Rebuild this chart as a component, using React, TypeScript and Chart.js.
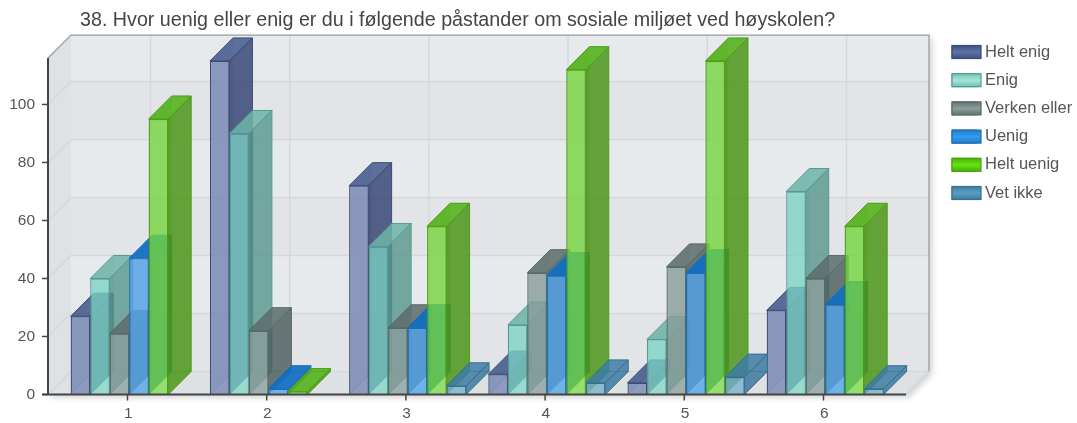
import React, { useEffect, useRef } from "react";
import { Chart, registerables } from "chart.js";

Chart.register(...registerables);

const title = "38. Hvor uenig eller enig er du i følgende påstander om sosiale miljøet ved høyskolen?";
const categories = [1, 2, 3, 4, 5, 6];
const seriesNames = ["Helt enig", "Enig", "Verken eller", "Uenig", "Helt uenig", "Vet ikke"];
const heltEnig = [27, 115, 72, 7, 4, 29];
const enig = [40, 90, 51, 24, 19, 70];
const verkenEller = [21, 22, 23, 42, 44, 40];
const uenig = [47, 2, 23, 41, 42, 31];
const heltUenig = [95, 1, 58, 112, 115, 58];
const vetIkke = [0, 0, 3, 4, 6, 2];
const seriesValues = [heltEnig, enig, verkenEller, uenig, heltUenig, vetIkke];

type Pal = { front: string; light: string; side: string; inner: string; top: string; edge: string; lg: [string, string] };
const palettes: Pal[] = [
  { front: "rgba(120,138,180,0.8)", light: "rgba(190,200,222,0.85)", side: "rgba(50,66,112,0.82)", inner: "rgba(50,66,112,0.15)", top: "rgba(62,84,138,0.82)", edge: "#3c4a75", lg: ["#3b4e80", "#5f73a6"] },
  { front: "rgba(125,215,200,0.72)", light: "rgba(190,238,228,0.8)", side: "rgba(85,150,140,0.8)", inner: "rgba(60,130,120,0.15)", top: "rgba(110,180,168,0.85)", edge: "#559a90", lg: ["#68c2b4", "#a6e4d8"] },
  { front: "rgba(140,160,158,0.78)", light: "rgba(205,215,213,0.82)", side: "rgba(80,98,96,0.85)", inner: "rgba(50,70,68,0.15)", top: "rgba(95,112,110,0.88)", edge: "#566a68", lg: ["#5c716f", "#8c9e9c"] },
  { front: "rgba(85,165,232,0.8)", light: "rgba(165,212,245,0.85)", side: "rgba(10,95,175,0.85)", inner: "rgba(10,90,170,0.15)", top: "rgba(15,110,195,0.92)", edge: "#1a6fb5", lg: ["#2578c4", "#2f9cf2"] },
  { front: "rgba(120,222,65,0.72)", light: "rgba(185,245,135,0.8)", side: "rgba(75,150,25,0.85)", inner: "rgba(50,125,10,0.25)", top: "rgba(85,180,30,0.9)", edge: "#4d9e14", lg: ["#42b005", "#66e412"] },
  { front: "rgba(120,175,205,0.78)", light: "rgba(185,215,232,0.82)", side: "rgba(50,115,155,0.8)", inner: "rgba(35,100,140,0.15)", top: "rgba(60,125,165,0.85)", edge: "#38708f", lg: ["#3a7a9f", "#5c9dc2"] },
];

const DX = 23;
const DY = -23;
const FRONT_LEFT = 48;
const FRONT_RIGHT = 906;
const TICK_SHIFT = -1.7;
const LEGEND_LEFT = 952;
const LEGEND_CENTER = 52;
const LEGEND_STEP = 28.2;

function poly(ctx: CanvasRenderingContext2D, pts: number[][], fill?: string, stroke?: string) {
  ctx.beginPath();
  pts.forEach((p, i) => (i ? ctx.lineTo(p[0], p[1]) : ctx.moveTo(p[0], p[1])));
  ctx.closePath();
  if (fill) { ctx.fillStyle = fill; ctx.fill(); }
  if (stroke) { ctx.strokeStyle = stroke; ctx.lineWidth = 1; ctx.stroke(); }
}

const stagePlugin = {
  id: "stage",
  afterLayout(chart: any) {
    const lg = chart.legend;
    const w = lg.width, h = lg.height;
    const pad = 11.7;
    const top = LEGEND_CENTER - 8.25 - pad;
    lg.left = LEGEND_LEFT - pad; lg.right = lg.left + w; lg.top = top; lg.bottom = top + h;
    const t = chart.titleBlock;
    t.left = 80; t.right = 1060;
  },
  afterDraw(chart: any) {
    const { ctx } = chart;
    seriesNames.forEach((_, i) => {
      const cy = LEGEND_CENTER + i * LEGEND_STEP;
      const g = ctx.createLinearGradient(0, cy - 7, 0, cy + 7);
      g.addColorStop(0, palettes[i].lg[0]);
      g.addColorStop(0.5, palettes[i].lg[1]);
      g.addColorStop(1, palettes[i].lg[0]);
      ctx.fillStyle = g;
      ctx.strokeStyle = palettes[i].edge;
      ctx.lineWidth = 1.2;
      ctx.fillRect(LEGEND_LEFT, cy - 6.5, 29, 13);
      ctx.strokeRect(LEGEND_LEFT, cy - 6.5, 29, 13);
    });
  },
  beforeDatasetsDraw(chart: any) {
    const { ctx, scales } = chart;
    const y = scales.y, x = scales.x;
    const y0 = y.getPixelForValue(0);
    const top = y.top;
    const L = FRONT_LEFT, R = FRONT_RIGHT;
    ctx.save();
    ctx.save();
    ctx.shadowColor = "rgba(0,0,0,0.18)";
    ctx.shadowBlur = 6;
    ctx.shadowOffsetX = 3;
    ctx.shadowOffsetY = 3;
    poly(ctx, [[L + DX, top + DY], [R + DX, top + DY], [R + DX, y0 + DY], [R, y0], [L, y0], [L, top]], "#e6e9ec");
    ctx.restore();
    poly(ctx, [[L, top], [L + DX, top + DY], [L + DX, y0 + DY], [L, y0]], "#dee2e5");
    poly(ctx, [[L, y0], [L + DX, y0 + DY], [R + DX, y0 + DY], [R, y0]], "#dde1e4");
    const ticks = [0, 20, 40, 60, 80, 100, y.max];
    for (let i = 0; i < ticks.length - 1; i++) {
      const a = y.getPixelForValue(ticks[i]) + DY, b = y.getPixelForValue(ticks[i + 1]) + DY;
      ctx.fillStyle = i % 2 === 0 ? "#e3e4e7" : "#e7eaed";
      ctx.fillRect(L + DX, b, R - L, a - b);
    }
    ctx.lineWidth = 1.4;
    ctx.strokeStyle = "#d6d7d9";
    for (const v of ticks.slice(0, -1)) {
      const p = y.getPixelForValue(v);
      ctx.beginPath(); ctx.moveTo(L, p); ctx.lineTo(L + DX, p + DY); ctx.lineTo(R + DX, p + DY); ctx.stroke();
    }
    for (const c of categories) {
      const p = x.getPixelForValue(c) + TICK_SHIFT + DX;
      ctx.beginPath(); ctx.moveTo(p, top + DY); ctx.lineTo(p, y0 + DY); ctx.stroke();
    }
    ctx.lineWidth = 1.3;
    ctx.strokeStyle = "#9a9da0";
    ctx.beginPath(); ctx.moveTo(L, top); ctx.lineTo(L + DX, top + DY); ctx.lineTo(R + DX, top + DY); ctx.lineTo(R + DX, y0 + DY); ctx.stroke();
    ctx.strokeStyle = "#d0d3d6";
    ctx.beginPath(); ctx.moveTo(R + DX, y0 + DY); ctx.lineTo(R, y0); ctx.stroke();
    chart.getSortedVisibleDatasetMetas().slice().sort((m1: any, m2: any) => m1.index - m2.index).forEach((meta: any) => {
      const pal = palettes[meta.index];
      meta.data.forEach((el: any) => {
        const p = el.getProps(["x", "y", "base", "width"]);
        if (Math.abs(p.base - p.y) < 0.5) return;
        const l = p.x - p.width / 2, r = p.x + p.width / 2, t = p.y, b = p.base;
        poly(ctx, [[l, t], [l + DX, t + DY], [l + DX, b + DY], [l, b]], pal.inner);
        poly(ctx, [[r, t], [r + DX, t + DY], [r + DX, b + DY], [r, b]], pal.side, pal.edge);
        poly(ctx, [[l, t], [l + DX, t + DY], [r + DX, t + DY], [r, t]], pal.top, pal.edge);
        ctx.beginPath(); ctx.moveTo(l + DX, b + DY); ctx.lineTo(r + DX, b + DY); ctx.moveTo(l, b); ctx.lineTo(l + DX, b + DY); ctx.strokeStyle = pal.edge; ctx.globalAlpha = 0.45; ctx.lineWidth = 1; ctx.stroke(); ctx.globalAlpha = 1;
        el.draw(ctx, chart.chartArea);
      });
    });
    ctx.lineWidth = 2;
    ctx.strokeStyle = "#444";
    ctx.beginPath(); ctx.moveTo(L - 6, y0); ctx.lineTo(R, y0); ctx.stroke();
    ctx.beginPath(); ctx.moveTo(L, top); ctx.lineTo(L, y0); ctx.stroke();
    ctx.lineWidth = 1.5;
    for (const v of ticks.slice(0, -1)) {
      const p = y.getPixelForValue(v);
      ctx.beginPath(); ctx.moveTo(L - 6, p); ctx.lineTo(L, p); ctx.stroke();
    }
    for (const c of categories) {
      const p = x.getPixelForValue(c) + TICK_SHIFT;
      ctx.beginPath(); ctx.moveTo(p, y0); ctx.lineTo(p, y0 + 6); ctx.stroke();
    }
    ctx.restore();
    return false;
  },
};

export default function App() {
  const ref = useRef<HTMLCanvasElement>(null);
  useEffect(() => {
    document.body.style.margin = "0";
    const fontFamily = '"Liberation Sans", Arial, sans-serif';
    const spacing = 139.2;
    const first = 129.2;
    const chart = new Chart(ref.current!, {
      type: "bar",
      data: {
        datasets: seriesNames.map((name, i) => ({
          label: name,
          data: categories.map((c, k) => ({ x: c, y: seriesValues[i][k] })),
          borderColor: palettes[i].edge,
          borderWidth: 1.2,
          backgroundColor: (ctx: any) => {
            const el = ctx.element;
            if (!el || !el.width) return palettes[i].front;
            const l = el.x - el.width / 2;
            const g = ctx.chart.ctx.createLinearGradient(l, 0, l + el.width, 0);
            g.addColorStop(0, palettes[i].front);
            g.addColorStop(0.22, palettes[i].light);
            g.addColorStop(0.45, palettes[i].front);
            g.addColorStop(1, palettes[i].front);
            return g;
          },
        })),
      },
      options: {
        animation: false,
        responsive: false,
        layout: { padding: { right: 1077 - FRONT_RIGHT } },
        datasets: { bar: { categoryPercentage: 0.84, barPercentage: 1 } },
        scales: {
          x: {
            type: "linear",
            offset: false,
            min: 1 - (first - FRONT_LEFT) / spacing,
            max: 6 + (FRONT_RIGHT - first - 5 * spacing) / spacing,
            afterFit: (s: any) => { s.height = 423 - 394.5; },
            grid: { display: false },
            border: { display: false },
            ticks: {
              stepSize: 1,
              includeBounds: false,
              color: "#555",
              padding: 2,
              labelOffset: -1,
              font: { size: 15.5, family: fontFamily },
            },
          },
          y: {
            min: 0,
            max: 116,
            afterFit: (s: any) => { s.width = FRONT_LEFT; },
            grid: { display: false },
            border: { display: false },
            ticks: {
              stepSize: 20,
              includeBounds: false,
              color: "#555",
              padding: 5,
              font: { size: 15.5, family: fontFamily },
            },
          },
        },
        plugins: {
          tooltip: { enabled: false },
          title: {
            display: true,
            text: title,
            align: "start",
            color: "#444",
            padding: { top: 9, bottom: 26 },
            font: { size: 19.7, weight: "normal", family: fontFamily, lineHeight: 1.17 },
          },
          legend: {
            position: "chartArea",
            align: "start",
            labels: {
              boxWidth: 24.75,
              boxHeight: 13,
              padding: 11.7,
              color: "#555",
              font: { size: 16.5, family: fontFamily },
              generateLabels: () =>
                seriesNames.map((n, i) => ({ text: n, fillStyle: palettes[i].lg[1], strokeStyle: palettes[i].edge, lineWidth: 1, datasetIndex: i, fontColor: "#555" })),
            },
          },
        },
      } as any,
      plugins: [stagePlugin as any],
    });
    return () => chart.destroy();
  }, []);
  return <canvas ref={ref} width={1077} height={423} style={{ display: "block", filter: "blur(0.45px)" }} />;
}
